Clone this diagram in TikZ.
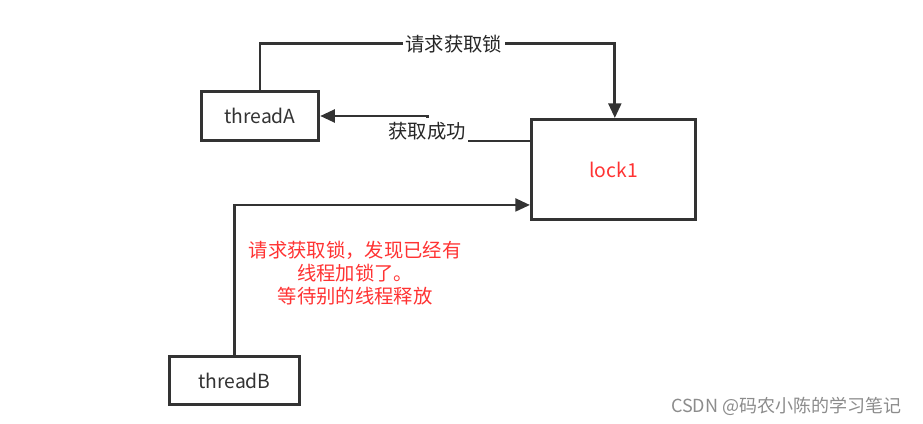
\documentclass[tikz,border=0pt]{standalone}
\usepackage{fontspec}
\setmainfont{Noto Sans CJK SC}
\usetikzlibrary{
  arrows.meta,
  calc,
  positioning
}
\definecolor{linegray}{HTML}{333333}
\definecolor{notered}{HTML}{FF3333}
\definecolor{markgray}{HTML}{8C8C8C}

\begin{document}
\begin{tikzpicture}[
  x=0.75pt, y=-0.75pt,
  >={Triangle[length=11pt, width=9.5pt]},
  every node/.style={font=\fontsize{14.5}{17}\selectfont},
  box/.style={draw=linegray, line width=2.2pt, fill=white,
    inner sep=0pt, text=black!80},
  link/.style={draw=linegray, line width=2.2pt},
  lbl/.style={fill=white, inner xsep=2pt, inner ysep=3pt, text=black!85},
]

% ═══════════════════════════════════════════
% CANVAS
% ═══════════════════════════════════════════
\useasboundingbox[fill=white] (0,0) rectangle (923,424);

% ═══════════════════════════════════════════
% THREADS AND LOCK
% ═══════════════════════════════════════════
\node[box, minimum width=88pt, minimum height=37pt] (threadA) at (260,116) {threadA};
\node[box, minimum width=123pt, minimum height=75pt, text=notered] (lockone) at (613.5,169.5) {lock1};
\node[box, minimum width=97.5pt, minimum height=36pt] (threadB) at (234.5,380.5) {threadB};

% ═══════════════════════════════════════════
% threadA REQUESTS AND GETS THE LOCK
% ═══════════════════════════════════════════
\draw[link, ->] (threadA.north) -- ++(0,-46) -| node[lbl, pos=0.273] {请求获取锁}
  ([xshift=1pt]lockone.north);

\draw[link, ->] ($(lockone.north west)+(0,23)$) -- ++(-103,0)
  |- node[lbl, pos=0.2] {获取成功} (threadA.east);

% ═══════════════════════════════════════════
% threadB HAS TO WAIT
% ═══════════════════════════════════════════
\draw[link, ->] (threadB.north) |- ($(lockone.south west)+(0,-16)$);

\node[text=notered, align=center, inner sep=0pt,
  font=\fontsize{14.5}{17.5}\selectfont] (waitnote) at (355,273) {
  请求获取锁，发现已经有\\
  线程加锁了。\\
  等待别的线程释放
};

% Watermark
\node[text=markgray, anchor=east, font=\fontsize{13.5}{16}\selectfont] (mark) at (906,406) {CSDN @码农小陈的学习笔记};

\end{tikzpicture}
\end{document}
